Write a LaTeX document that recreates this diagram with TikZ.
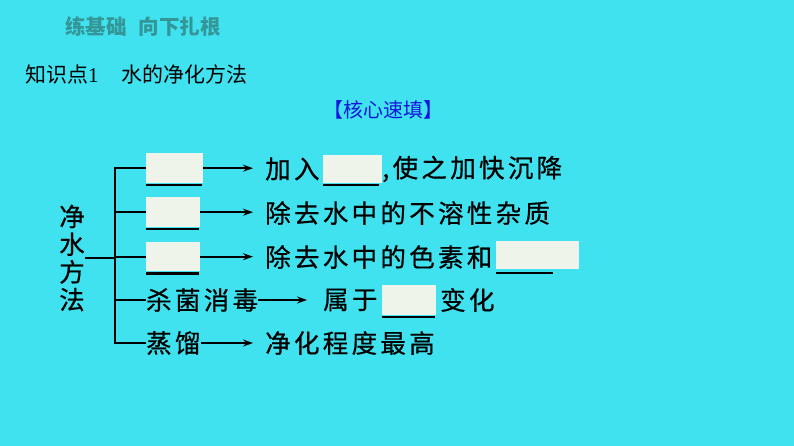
\documentclass[tikz,border=0pt]{standalone}
\usepackage{fontspec}
\setmainfont{Liberation Serif}
\newfontfamily\cjk{Noto Sans CJK SC}
\newfontfamily\cjkls{Noto Sans CJK SC}[LetterSpace=13,FakeBold=0.6]
\newfontfamily\cjkv{Noto Sans CJK SC}[FakeBold=0.6]
\usetikzlibrary{arrows.meta}
\definecolor{bg}{RGB}{64,226,240}
\definecolor{boxc}{RGB}{238,244,234}
\definecolor{titlec}{RGB}{52,150,150}
\definecolor{hblue}{RGB}{20,20,220}
\begin{document}
\begin{tikzpicture}[x=1pt,y=-1pt,
  txt/.style={inner sep=0pt, anchor=west, font=\cjkls\fontsize{25.5}{28}\selectfont},
  blank/.style={fill=boxc, inner sep=0pt, anchor=north west},
  ul/.style={line width=2pt},
  arr/.style={line width=1.8pt, -{Stealth[length=10pt,width=7pt]}},
  br/.style={line width=1.8pt}]
\fill[bg] (0,0) rectangle (794,446);
\useasboundingbox (0,0) rectangle (794,446);

% header
\node[anchor=west, inner sep=0pt, text=titlec, font=\cjk\bfseries\fontsize{20.5}{24}\selectfont] (title) at (65,27) {练基础\hspace{12pt}向下扎根};
\node[anchor=west, inner sep=0pt, font=\cjk\fontsize{21}{24}\selectfont] (kp) at (25,74) {知识点{\rmfamily 1}\hspace{23pt}水的净化方法};
\node[anchor=west, inner sep=0pt, text=hblue, font=\cjk\fontsize{20}{22}\selectfont] (hx) at (323,110) {【核心速填】};

% left label
\node[inner sep=0pt, align=center, font=\cjkv\fontsize{25.5}{27.7}\selectfont] (m) at (72,258) {净\\水\\方\\法};

% left blanks
\node[blank, minimum width=57pt, minimum height=30pt] (b1) at (146,153) {};
\node[blank, minimum width=54pt, minimum height=30pt] (b2) at (146,197) {};
\node[blank, minimum width=54pt, minimum height=29pt] (b3) at (146,242) {};
\draw[ul] ([yshift=-2pt]b1.south west) -- ([yshift=-2pt,xshift=-1pt]b1.south east);
\draw[ul] ([yshift=-2pt]b2.south west) -- ([yshift=-2pt,xshift=-1pt]b2.south east);
\draw[line width=2.6pt] ([yshift=-2pt]b3.south west) -- ([yshift=-2pt,xshift=-1pt]b3.south east);

\node[txt] (t4) at (146,300) {杀菌消毒};
\node[txt] (t5) at (146,343) {蒸馏};

% right texts
\node[txt] (r1) at (265,169) {加入};
\node[blank, minimum width=59pt, minimum height=28pt] (r1b) at (323,155) {};
\draw[ul] ([yshift=-2pt]r1b.south west) -- ([yshift=-2pt,xshift=-3pt]r1b.south east);
\node[txt] (r1c) at (382,169) {,使之加快沉降};

\node[txt] (r2) at (265,213) {除去水中的不溶性杂质};

\node[txt] (r3) at (265,257) {除去水中的色素和};
\node[blank, minimum width=83pt, minimum height=28pt] (r3b) at (496,241) {};
\draw[ul] ([yshift=-4pt]r3b.south west) -- ([yshift=-4pt,xshift=-26pt]r3b.south east);

\node[txt] (r4) at (323,300) {属于};
\node[blank, minimum width=54pt, minimum height=30pt] (r4b) at (382,285) {};
\draw[ul] ([yshift=-2pt]r4b.south west) -- ([yshift=-2pt,xshift=-1pt]r4b.south east);
\node[txt] (r4c) at (440,300) {变化};

\node[txt] (r5) at (265,343) {净化程度最高};

% bracket
\coordinate (s) at (115,169);
\draw[br] (b1.west) -- (b1.west -| s) -- (t5.west -| s) -- (t5.west);
\draw[br] (b2.west -| s) -- (b2.west);
\draw[br] (b3.west -| s) -- (b3.west);
\draw[br] (t4.west -| s) -- (t4.west);
\draw[br] (m.east) -- (m.east -| s);

% arrows
\draw[arr, shorten >=12pt] (b1.east) -- (b1.east -| r1.west);
\draw[arr, shorten >=12pt] (b2.east) -- (b2.east -| r2.west);
\draw[arr, shorten >=12pt] (b3.east) -- (b3.east -| r3.west);
\draw[arr, shorten >=16pt] (t4.east) -- (r4.west);
\draw[arr, shorten >=12pt] (t5.east) -- (r5.west);
\end{tikzpicture}
\end{document}
